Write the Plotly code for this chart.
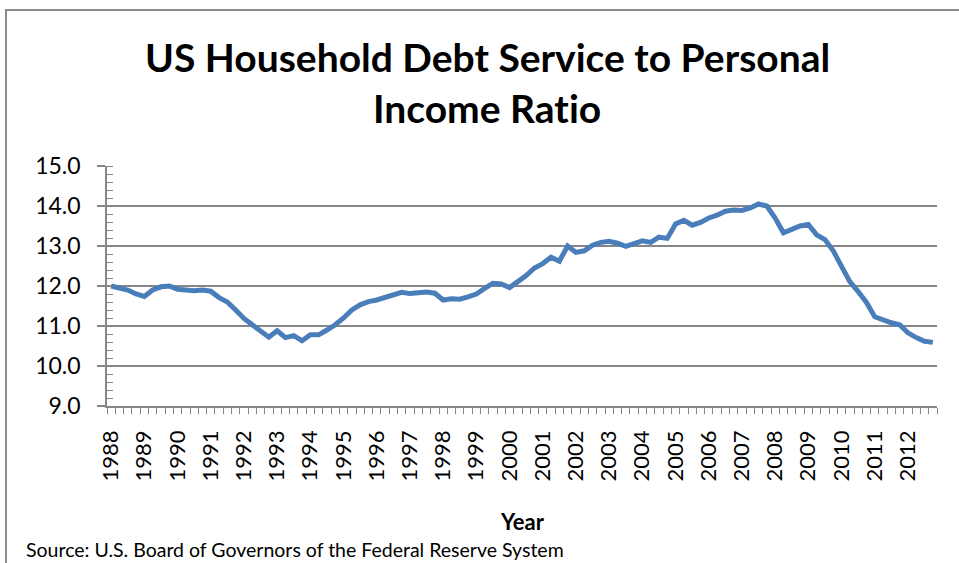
import plotly.graph_objects as go

# Quarterly household debt service ratio, 1988 Q1 - 2012 Q4 (percent of disposable personal income)
years = list(range(1988, 2013))
quarters = [1, 2, 3, 4]
debt_service_ratio = [
    12.00, 11.96, 11.90, 11.80, 11.74, 11.90, 11.98, 12.00,   # 1988-1989
    11.92, 11.90, 11.88, 11.90, 11.87, 11.71, 11.60, 11.40,   # 1990-1991
    11.19, 11.03, 10.87, 10.72, 10.88, 10.71, 10.76, 10.63,   # 1992-1993
    10.78, 10.78, 10.90, 11.03, 11.20, 11.40, 11.53, 11.61,   # 1994-1995
    11.65, 11.71, 11.78, 11.84, 11.81, 11.82, 11.85, 11.82,   # 1996-1997
    11.65, 11.68, 11.67, 11.73, 11.80, 11.94, 12.07, 12.05,   # 1998-1999
    11.96, 12.11, 12.26, 12.45, 12.56, 12.72, 12.62, 13.00,   # 2000-2001
    12.84, 12.88, 13.02, 13.09, 13.12, 13.07, 12.99, 13.06,   # 2002-2003
    13.13, 13.09, 13.22, 13.19, 13.55, 13.64, 13.52, 13.59,   # 2004-2005
    13.70, 13.77, 13.87, 13.90, 13.89, 13.95, 14.05, 14.00,   # 2006-2007
    13.70, 13.33, 13.43, 13.50, 13.54, 13.28, 13.16, 12.88,   # 2008-2009
    12.49, 12.11, 11.86, 11.59, 11.23, 11.14, 11.08, 11.03,   # 2010-2011
    10.83, 10.71, 10.62, 10.59,                               # 2012
]
y_ticks = [9.0, 10.0, 11.0, 12.0, 13.0, 14.0, 15.0]

# decimal-year position of each quarter
period = [yr + (q - 1) / 4 for yr in years for q in quarters]

W, H = 959, 563
L, R, T, B = 107, 937, 166, 406   # plot area in pixels

def px(x):
    return (x - L) / (R - L)

def py(y):
    return (B - y) / (B - T)

GRAY = "#868686"
FONT = "Lato"
ZWNJ = "\u200c"   # keeps "t" and "i" from forming a ligature

fig = go.Figure()
fig.add_trace(go.Scatter(
    x=period, y=debt_service_ratio, mode="lines",
    line=dict(color="#4A7EBB", width=5),
    hoverinfo="x+y", showlegend=False,
))

fig.update_layout(
    width=W, height=H,
    margin=dict(l=L, r=W - R, t=T, b=H - B, pad=0),
    paper_bgcolor="white", plot_bgcolor="white",
    font=dict(family=FONT, color="black"),
    xaxis=dict(
        range=[years[0] - 0.125, years[-1] + 0.875],
        tickmode="array", tickvals=years, ticktext=[str(y) for y in years],
        ticks="", tickangle=-90, tickfont=dict(size=22, family=FONT),
        ticklabelstandoff=14,
        showgrid=False, zeroline=False,
        showline=True, linecolor=GRAY, linewidth=1.5,
        minor=dict(ticks="outside", tick0=years[0] - 0.125, dtick=0.25,
                   ticklen=6, tickwidth=1.2, tickcolor=GRAY, showgrid=False),
        fixedrange=True,
    ),
    yaxis=dict(
        range=[y_ticks[0], y_ticks[-1]],
        tickmode="array", tickvals=y_ticks,
        ticktext=[f"{v:.1f}" for v in y_ticks],
        ticks="outside", ticklen=8, tickwidth=1.5, tickcolor=GRAY,
        tickfont=dict(size=23, family=FONT), ticklabelstandoff=12,
        showgrid=True, gridcolor=GRAY, gridwidth=1.5,
        zeroline=False, showline=True, linecolor=GRAY, linewidth=1.5,
        minor=dict(ticks="inside", tick0=9, dtick=0.2, ticklen=6,
                   tickwidth=1.2, tickcolor=GRAY, showgrid=False),
        fixedrange=True,
    ),
)

# chart frame
fig.add_shape(type="rect", xref="paper", yref="paper",
              x0=px(6), x1=px(W + 20), y0=py(H + 20), y1=py(10),
              line=dict(color="#8C8C8C", width=2), layer="below")

# title (two lines)
for text, yc in [("US Household Debt Service to Personal", 57),
                 (f"Income Rat{ZWNJ}io", 108)]:
    fig.add_annotation(text=f"<b>{text}</b>", xref="paper", yref="paper",
                       x=px(487), y=py(yc), xanchor="center", yanchor="middle",
                       showarrow=False, font=dict(size=39, family=FONT))

# x-axis title
fig.add_annotation(text="<b>Year</b>", xref="paper", yref="paper",
                   x=px(522), y=py(521), xanchor="center", yanchor="middle",
                   showarrow=False, font=dict(size=22, family=FONT))

fig.add_annotation(text="Source: U.S. Board of Governors of the Federal Reserve System",
                   xref="paper", yref="paper", x=px(24), y=py(549),
                   xanchor="left", yanchor="middle", showarrow=False,
                   font=dict(size=19.5, family=FONT))

fig.write_html("out.html")
